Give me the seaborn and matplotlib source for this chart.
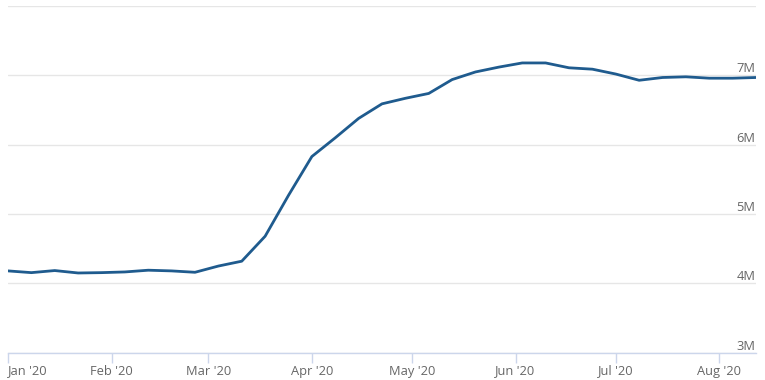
import matplotlib
matplotlib.use("Agg")
import matplotlib.pyplot as plt
import seaborn as sns
import pandas as pd

# weekly values (millions)
dates = pd.date_range("2020-01-01", periods=33, freq="7D")
values = [4.18, 4.155, 4.185, 4.15, 4.155, 4.165, 4.19, 4.18, 4.16, 4.25,
          4.32, 4.68, 5.27, 5.83, 6.10, 6.38, 6.59, 6.67, 6.74, 6.94,
          7.05, 7.12, 7.18, 7.18, 7.11, 7.09, 7.02, 6.93, 6.97, 6.98,
          6.96, 6.96, 6.97]
month_ticks = pd.date_range("2020-01-01", "2020-08-01", freq="MS")
month_labels = ["Jan '20", "Feb '20", "Mar '20", "Apr '20", "May '20",
                "Jun '20", "Jul '20", "Aug '20"]
y_ticks = [3, 4, 5, 6, 7, 8]
y_labels = ["3M", "4M", "5M", "6M", "7M", ""]

df = pd.DataFrame({"date": dates, "value": values})

sns.set_theme(style="white")
plt.rcParams["font.family"] = ["Open Sans", "DejaVu Sans"]

fig = plt.figure(figsize=(7.65, 3.8), dpi=100)
ax = fig.add_axes([8 / 765, 1 - 352.7 / 380, (756 - 8) / 765, (352.7 - 6.1) / 380])

sns.lineplot(data=df, x="date", y="value", ax=ax, color="#1f5b8e", linewidth=2)

ax.set_xlim(pd.Timestamp("2020-01-01"), pd.Timestamp("2020-08-12"))
ax.set_ylim(3, 8)
ax.set_xlabel("")
ax.set_ylabel("")

ax.set_yticks(y_ticks)
ax.grid(axis="y", color="#e6e6e6", linewidth=1)
ax.grid(axis="x", visible=False)
ax.tick_params(axis="y", which="both", left=False, right=False,
               labelleft=False, labelright=False)
ytrans = ax.get_yaxis_transform()
for yv, lab in zip(y_ticks, y_labels):
    if lab:
        ax.text(0.999, yv, lab, transform=ytrans, ha="right", va="bottom",
                fontsize=9.3, color="#666666")

ax.set_xticks(month_ticks)
ax.set_xticklabels(month_labels)
ax.tick_params(axis="x", which="both", bottom=True, length=7.5, width=1,
               color="#ccd6eb", pad=1, labelsize=9.3, labelcolor="#666666")
ax.get_xticklabels()[0].set_horizontalalignment("left")

for side in ["top", "left", "right"]:
    ax.spines[side].set_visible(False)
ax.spines["bottom"].set_color("#ccd6eb")
ax.spines["bottom"].set_linewidth(1)

fig.savefig("out.png", dpi=100)
